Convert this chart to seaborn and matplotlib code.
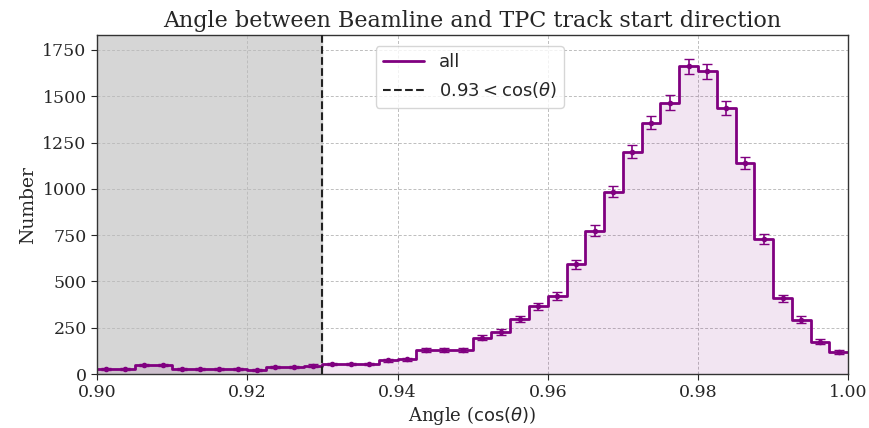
import numpy as np
import pandas as pd
import matplotlib
matplotlib.use("Agg")
import matplotlib.pyplot as plt
import seaborn as sns
from matplotlib.lines import Line2D

# Data
x_min, x_max, bin_width = 0.90, 1.00, 0.0025
counts = [30, 27, 48, 48, 30, 30, 30, 30, 22, 38,
          38, 45, 55, 55, 55, 74, 80, 130, 130, 130,
          197, 226, 298, 366, 420, 592, 775, 985, 1200, 1358,
          1466, 1662, 1636, 1434, 1139, 728, 408, 294, 175, 120]
cut_value = 0.93
title = "Angle between Beamline and TPC track start direction"
xlabel = r"Angle ($\cos(\theta)$)"
ylabel = "Number"
legend_labels = ["all", r"$0.93 < \cos(\theta)$"]

sns.set_style("ticks")
plt.rcParams["font.family"] = ["DejaVu Serif"]

counts = np.array(counts, dtype=float)
centers = x_min + bin_width * (np.arange(len(counts)) + 0.5)
df = pd.DataFrame({"angle": centers, "n": counts})
purple = "#800080"

fig, ax = plt.subplots(figsize=(8.7, 4.28), dpi=100)
fig.subplots_adjust(left=0.1115, right=0.975, top=0.918, bottom=0.126)

ax.axvspan(x_min, cut_value, color="#d6d6d6", zorder=0)

sns.histplot(data=df, x="angle", weights="n", binwidth=bin_width,
             binrange=(x_min, x_max), element="step",
             fill=True, color=purple, alpha=0.1, linewidth=0, ax=ax, zorder=1)
sns.histplot(data=df, x="angle", weights="n", binwidth=bin_width,
             binrange=(x_min, x_max), element="step",
             fill=False, color=purple, linewidth=2, ax=ax, zorder=2)
ax.errorbar(df["angle"], df["n"], yerr=np.sqrt(df["n"]), fmt="o", markersize=3,
            color=purple, ecolor=purple, elinewidth=1.2, capsize=3.5, zorder=3)

ax.axvline(cut_value, color="#222222", linestyle="--", linewidth=1.5, zorder=4)

ax.set_xlim(x_min, x_max)
ax.set_ylim(0, 1830)
ax.set_xticks([0.90, 0.92, 0.94, 0.96, 0.98, 1.00])
ax.set_xticklabels(["0.90", "0.92", "0.94", "0.96", "0.98", "1.00"])
ax.set_yticks([0, 250, 500, 750, 1000, 1250, 1500, 1750])
ax.tick_params(labelsize=12.5, direction="out", length=4)
ax.tick_params(axis="x", pad=3)
ax.tick_params(axis="y", pad=3.5)
ax.grid(True, linestyle=(0, (3, 2)), color="#bdbdbd", linewidth=0.7)
ax.set_axisbelow(True)
for s in ax.spines.values():
    s.set_visible(True)
    s.set_color("#333333")
    s.set_linewidth(1.0)

ax.set_title(title, fontsize=16)
ax.set_xlabel(xlabel, fontsize=13, labelpad=2)
ax.set_ylabel(ylabel, fontsize=13.5)

handles = [Line2D([0], [0], color=purple, linewidth=2),
           Line2D([0], [0], color="#222222", linestyle="--", linewidth=1.5)]
leg = ax.legend(handles, legend_labels, loc="upper left",
                bbox_to_anchor=(0.359, 0.994), prop={"family": "DejaVu Sans", "size": 13},
                framealpha=0.8, handlelength=2.3)

fig.savefig("out.png", dpi=100)
